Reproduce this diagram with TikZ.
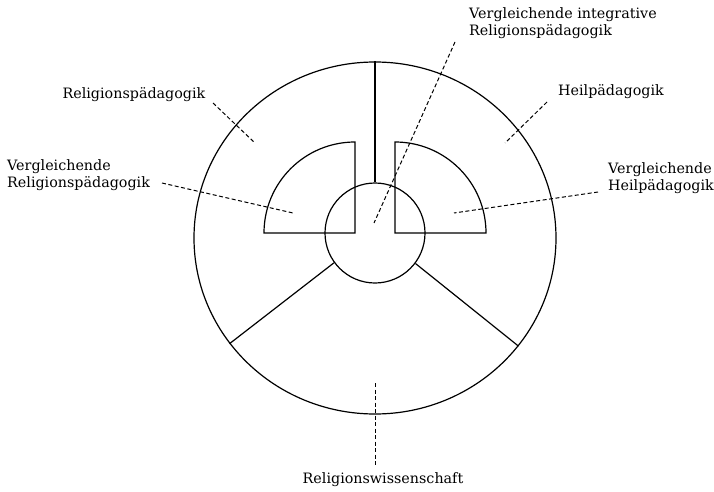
\documentclass[tikz,border=0pt]{standalone}
\usepackage{fontspec}
\setmainfont{DejaVu Serif}
\usepackage{tikz}
\usetikzlibrary{shapes.geometric}

\begin{document}
\begin{tikzpicture}[x=1pt,y=1pt,
  wall/.style={line width=1.2pt},
  leader/.style={line width=1pt,dash pattern=on 4pt off 2.5pt},
  lbl/.style={inner sep=0pt,font=\fontsize{14.3}{16.5}\selectfont}]
\useasboundingbox (0,0) rectangle (714,491);
% ----- rings -----
\node[wall,draw,ellipse,inner sep=0pt,minimum width=362pt,minimum height=352pt] (rim) at (375,253) {};
\node[wall,draw,circle,inner sep=0pt,minimum size=100pt] (hub) at (375,258) {};
\draw[wall] (rim.north) -- (hub.north);
\draw[wall] (hub.216) -- (rim.216);
\draw[wall] (hub.-37) -- (rim.-37);
% ----- quarter sectors -----
\draw[wall] (355,258) -- (264,258) arc (180:90:91) -- cycle;
\draw[wall] (395,258) -- (486,258) arc (0:90:91) -- cycle;
% ----- labels -----
\node[lbl,anchor=west,align=left] (vir) at (469,468) {Vergleichende integrative\\Religionspädagogik};
\node[lbl] (rp) at (134,396) {Religionspädagogik};
\node[lbl,anchor=west,align=left] (vrp) at (7,316) {Vergleichende\\Religionspädagogik};
\node[lbl] (hp) at (611,399) {Heilpädagogik};
\node[lbl,anchor=west,align=left] (vhp) at (608,313) {Vergleichende\\Heilpädagogik};
\node[lbl] (rw) at (383,11) {Religionswissenschaft};
% ----- leaders -----
\coordinate (vir-a) at (455,449); \coordinate (vir-b) at (374,268);
\coordinate (rp-a) at (213,388);  \coordinate (rp-b) at (255,348);
\coordinate (vrp-a) at (162,308); \coordinate (vrp-b) at (293,278);
\coordinate (hp-a) at (547,389);  \coordinate (hp-b) at (505,348);
\coordinate (vhp-a) at (598,299); \coordinate (vhp-b) at (454,278);
\coordinate (rw-a) at (375,108);  \coordinate (rw-b) at (375,26);
\draw[leader] (vir-a) -- (vir-b);
\draw[leader] (rp-a) -- (rp-b);
\draw[leader] (vrp-a) -- (vrp-b);
\draw[leader] (hp-a) -- (hp-b);
\draw[leader] (vhp-a) -- (vhp-b);
\draw[leader] (rw-a) -- (rw-b);
\end{tikzpicture}
\end{document}
